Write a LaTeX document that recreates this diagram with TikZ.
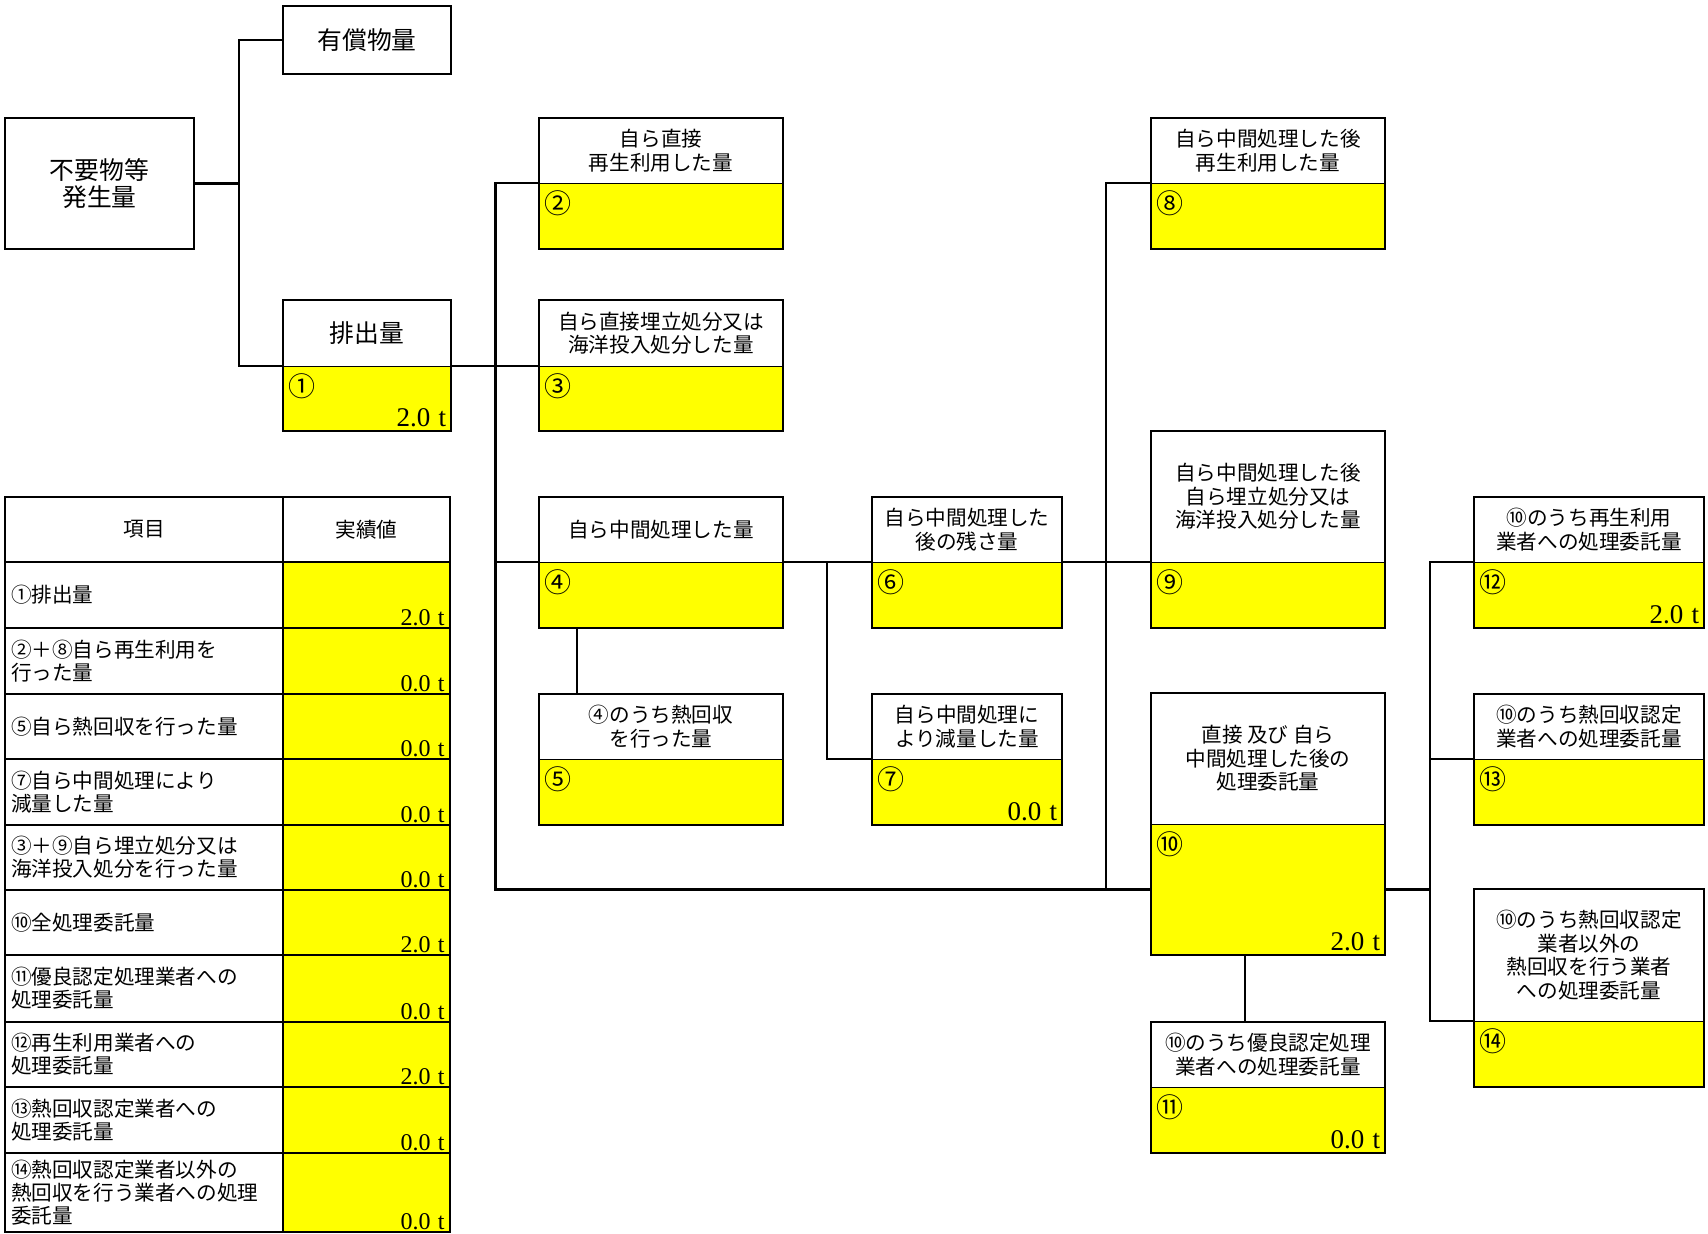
\documentclass[tikz,border=0pt]{standalone}
\usepackage{fontspec}
\setmainfont{Noto Sans CJK JP}
\newfontfamily\numfont{Liberation Serif}
\usetikzlibrary{calc}
\definecolor{valyellow}{RGB}{255,255,0}
\tikzset{
  boxline/.style={line width=1.05pt},
  divline/.style={line width=0.5pt},
  conn/.style={line width=1.05pt},
  hdr/.style={inner sep=0pt, align=center, font=\fontsize{10.3pt}{11.75pt}\selectfont},
  bighdr/.style={inner sep=0pt, align=center, font=\fontsize{12.4pt}{13.5pt}\selectfont},
  valbg/.style={fill=valyellow, inner sep=0pt},
  circ/.style={anchor=north west, inner sep=0pt, xshift=2.5pt, yshift=-4pt, font=\fontsize{13.5pt}{13.5pt}\selectfont},
  amount/.style={anchor=south east, inner xsep=2.5pt, inner ysep=2pt, font=\numfont\fontsize{13.5pt}{13.5pt}\selectfont},
  amountT/.style={anchor=south east, inner xsep=3pt, inner ysep=1.2pt, font=\numfont\fontsize{12pt}{12pt}\selectfont},
  cellL/.style={draw, line width=1pt, text width=133pt, inner xsep=3pt, inner ysep=0pt, align=left, font=\fontsize{10.3pt}{11.5pt}\selectfont},
  cellR/.style={draw, line width=1pt, fill=valyellow, minimum width=83.5pt, inner sep=0pt},
  cellH/.style={draw, line width=1pt, inner sep=0pt, minimum height=32.5pt, font=\fontsize{10.3pt}{11.5pt}\selectfont},
}
\newcommand{\flowbox}[8]{%
  \node[#7, minimum width={(#4-#2)*0.5pt}, minimum height={(#5-#3)*0.5pt}] (#1h) at ({(#2+#4)/2},{(#3+#5)/2}) {#8};
  \node[valbg, minimum width={(#4-#2)*0.5pt}, minimum height={(#6-#5)*0.5pt}] (#1v) at ({(#2+#4)/2},{(#5+#6)/2}) {};
  \draw[divline] (#1h.south west) -- (#1h.south east);
  \draw[boxline] (#1h.north west) rectangle (#1v.south east);
}
\newcommand{\tabrow}[5]{%
  \node[cellL, minimum height={(#3-#2)*0.5pt}] (ra#1) at (144,{(#2+#3)/2}) {#4};
  \node[cellR, minimum height={(#3-#2)*0.5pt}] (rb#1) at (366.5,{(#2+#3)/2}) {};
  \node[amountT] (rv#1) at (rb#1.south east) {#5};
}
\begin{document}
\begin{tikzpicture}[x=0.5pt, y=-0.5pt]
\useasboundingbox (0,0) rectangle (1708,1234);
\fill[white] (0,0) rectangle (1708,1234);

% left part
\node[bighdr, draw, boxline, minimum width=94.5pt, minimum height=65.5pt] (A) at (99.5,183.5) {不要物等\\発生量};
\node[bighdr, draw, boxline, minimum width=84pt, minimum height=34pt] (B) at (367,40) {有償物量};
\flowbox{c}{283}{300}{451}{366}{431}{bighdr}{排出量}
\node[circ] (c1) at (cv.north west) {①};
\node[amount] (a1) at (cv.south east) {2.0\hspace{.3em}t};

% middle boxes
\flowbox{s2}{539}{118}{783}{183}{249}{hdr}{自ら直接\\再生利用した量}
\node[circ] (c2) at (s2v.north west) {②};
\flowbox{s3}{539}{300}{783}{366}{431}{hdr}{自ら直接埋立処分又は\\海洋投入処分した量}
\node[circ] (c3) at (s3v.north west) {③};
\flowbox{s4}{539}{497}{783}{562}{628}{hdr}{自ら中間処理した量}
\node[circ] (c4) at (s4v.north west) {④};
\flowbox{s5}{539}{694}{783}{759}{825}{hdr}{④のうち熱回収\\を行った量}
\node[circ] (c5) at (s5v.north west) {⑤};
\flowbox{s6}{872}{497}{1062}{562}{628}{hdr}{自ら中間処理した\\後の残さ量}
\node[circ] (c6) at (s6v.north west) {⑥};
\flowbox{s7}{872}{694}{1062}{759}{825}{hdr}{自ら中間処理に\\より減量した量}
\node[circ] (c7) at (s7v.north west) {⑦};
\node[amount] (a7) at (s7v.south east) {0.0\hspace{.3em}t};

% right boxes
\flowbox{s8}{1151}{118}{1385}{183}{249}{hdr}{自ら中間処理した後\\再生利用した量}
\node[circ] (c8) at (s8v.north west) {⑧};
\flowbox{s9}{1151}{431}{1385}{562}{628}{hdr}{自ら中間処理した後\\自ら埋立処分又は\\海洋投入処分した量}
\node[circ] (c9) at (s9v.north west) {⑨};
\flowbox{s10}{1151}{693}{1385}{824}{955}{hdr}{直接 及び 自ら\\中間処理した後の\\処理委託量}
\node[circ] (c10) at (s10v.north west) {⑩};
\node[amount] (a10) at (s10v.south east) {2.0\hspace{.3em}t};
\flowbox{s11}{1151}{1022}{1385}{1087}{1153}{hdr}{⑩のうち優良認定処理\\業者への処理委託量}
\node[circ] (c11) at (s11v.north west) {⑪};
\node[amount] (a11) at (s11v.south east) {0.0\hspace{.3em}t};
\flowbox{s12}{1474}{497}{1704}{562}{628}{hdr}{⑩のうち再生利用\\業者への処理委託量}
\node[circ] (c12) at (s12v.north west) {⑫};
\node[amount] (a12) at (s12v.south east) {2.0\hspace{.3em}t};
\flowbox{s13}{1474}{694}{1704}{759}{825}{hdr}{⑩のうち熱回収認定\\業者への処理委託量}
\node[circ] (c13) at (s13v.north west) {⑬};
\flowbox{s14}{1474}{889}{1704}{1021}{1087}{hdr}{⑩のうち熱回収認定\\業者以外の\\熱回収を行う業者\\への処理委託量}
\node[circ] (c14) at (s14v.north west) {⑭};

% connectors
\coordinate (t1) at (239,183.5);
\draw[conn] (A.east) -- (t1);
\draw[conn] (B.west) -| (t1) |- (ch.south west);
\coordinate (t2) at (495.5,366);
\draw[conn] (ch.south east) -- (s3h.south west);
\draw[conn] (s2h.south west) -| (t2) |- (s10v.west);
\draw[conn] (t2 |- s4h.south west) -- (s4h.south west);
\draw[conn] (s4h.south east) -- (s6h.south west);
\coordinate (t5) at (827,562);
\draw[conn] (t5) |- (s7h.south west);
\coordinate (t6) at (577,628);
\draw[conn] (t6) -- (t6 |- s5h.north);
\coordinate (t3) at (1106,562);
\draw[conn] (s8h.south west) -| (t3) |- (s10v.west);
\draw[conn] (s6h.south east) -- (s9h.south west);
\coordinate (t4) at (1430,889.5);
\draw[conn] (s10v.east) -- (t4);
\draw[conn] (s12h.south west) -| (t4) |- (s14h.south west);
\draw[conn] (t4 |- s13h.south west) -- (s13h.south west);
\coordinate (t7) at (1245,955);
\draw[conn] (t7) -- (t7 |- s11h.north);

% table
\node[cellH, minimum width=139pt] (th1) at (144,529.5) {項目};
\node[cellH, minimum width=83.5pt] (th2) at (366.5,529.5) {実績値};
\tabrow{1}{562}{628}{①排出量}{2.0\hspace{.3em}t}
\tabrow{2}{628}{694}{②＋⑧自ら再生利用を\\行った量}{0.0\hspace{.3em}t}
\tabrow{3}{694}{759}{⑤自ら熱回収を行った量}{0.0\hspace{.3em}t}
\tabrow{4}{759}{825}{⑦自ら中間処理により\\減量した量}{0.0\hspace{.3em}t}
\tabrow{5}{825}{890}{③＋⑨自ら埋立処分又は\\海洋投入処分を行った量}{0.0\hspace{.3em}t}
\tabrow{6}{890}{955}{⑩全処理委託量}{2.0\hspace{.3em}t}
\tabrow{7}{955}{1022}{⑪優良認定処理業者への\\処理委託量}{0.0\hspace{.3em}t}
\tabrow{8}{1022}{1087}{⑫再生利用業者への\\処理委託量}{2.0\hspace{.3em}t}
\tabrow{9}{1087}{1153}{⑬熱回収認定業者への\\処理委託量}{0.0\hspace{.3em}t}
\tabrow{10}{1153}{1232}{⑭熱回収認定業者以外の\\熱回収を行う業者への処理\\委託量}{0.0\hspace{.3em}t}
\end{tikzpicture}
\end{document}
